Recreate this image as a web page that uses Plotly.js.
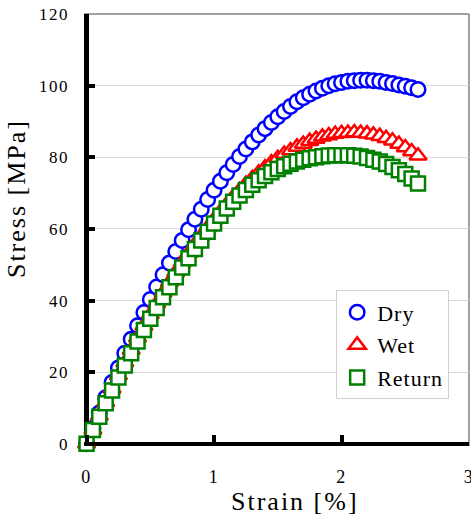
<!DOCTYPE html>
<html><head><meta charset="utf-8">
<script src="https://cdn.plot.ly/plotly-3.0.1.min.js"></script>
<style>
html,body{margin:0;padding:0;background:#fff;}
#chart{width:471px;height:518px;}
.xtick text,.ytick text{letter-spacing:1.5px;}
.legendtext{letter-spacing:1px;}
.annotation-text{letter-spacing:2px;}
</style></head><body><div id="chart"></div>
<script>
const strain = [0,0.05,0.1,0.15,0.2,0.25,0.3,0.35,0.4,0.45,0.5,0.55,0.6,0.65,0.7,0.75,0.8,0.85,0.9,0.95,1.0,1.05,1.1,1.15,1.2,1.25,1.3,1.35,1.4,1.45,1.5,1.55,1.6,1.65,1.7,1.75,1.8,1.85,1.9,1.95,2.0,2.05,2.1,2.15,2.2,2.25,2.3,2.35,2.4,2.45,2.5,2.55,2.6];
const dryStress = [0,4.3,8.6,12.9,17.1,21.2,25.3,29.2,33.0,36.7,40.3,43.8,47.2,50.5,53.7,56.8,59.8,62.7,65.5,68.2,70.8,73.3,75.7,78.0,80.2,82.3,84.3,86.2,88.0,89.7,91.3,92.8,94.2,95.5,96.6,97.6,98.5,99.3,100.0,100.5,100.9,101.2,101.4,101.5,101.5,101.4,101.2,100.9,100.6,100.2,99.8,99.4,98.9];
const wetStress = [0,3.9,7.8,11.6,15.4,19.1,22.7,26.2,29.6,32.9,36.1,39.2,42.2,45.1,47.9,50.6,53.2,55.7,58.1,60.4,62.6,64.8,66.9,68.9,70.7,72.5,74.1,75.7,77.1,78.5,79.7,80.9,81.9,82.9,83.7,84.5,85.1,85.7,86.1,86.5,86.7,86.8,86.9,86.8,86.6,86.3,85.9,85.3,84.6,83.7,82.7,81.6,80.4];
const returnStress = [0,3.9,7.6,11.3,14.9,18.5,21.9,25.3,28.6,31.8,34.9,37.9,40.9,43.7,46.5,49.2,51.8,54.4,56.8,59.2,61.5,63.7,65.7,67.6,69.3,70.9,72.3,73.6,74.8,75.8,76.7,77.5,78.2,78.8,79.3,79.7,80.0,80.3,80.5,80.6,80.6,80.6,80.4,80.2,79.8,79.3,78.8,78.1,77.3,76.4,75.3,74.1,72.7];
const seriesNames = ['Dry','Wet','Return'];
const xTickVals = [0,1,2,3];
const yTickVals = [0,20,40,60,80,100,120];
const xTitle = 'Strain [%]';
const yTitle = 'Stress [MPa]';

const FONT = 'Liberation Serif';
function mk(name, y, symbol, color, size){
  return {type:'scatter', mode:'markers', name:name, legendgroup:name, x:strain, y:y, cliponaxis:false,
    marker:{symbol:symbol, size:size, color:'#ffffff', line:{color:color, width:2.5}}};
}
const data = [
  mk(seriesNames[0], dryStress, 'circle', '#0000ff', 14.5),
  mk(seriesNames[1], wetStress, 'triangle-up', '#ff0000', 15),
  mk(seriesNames[2], returnStress, 'square', '#008000', 14)
];
const layout = {
  width:471, height:518,
  margin:{l:84, r:2, t:14, b:72},
  paper_bgcolor:'#fff', plot_bgcolor:'#fff',
  font:{family:FONT, color:'#000'},
  showlegend:true,
  xaxis:{range:[-0.02,3], tickvals:xTickVals, ticktext:xTickVals.map(String), showgrid:false,
    zeroline:true, zerolinecolor:'#000', zerolinewidth:4.5, showline:false, ticklabeloverflow:'allow',
    ticks:'inside', ticklen:11, tickwidth:4, tickcolor:'#000', ticklabelstandoff:18,
    tickfont:{family:FONT, size:18, color:'#000'}},
  yaxis:{range:[-0.6,120], tickvals:yTickVals, ticktext:yTickVals.map(String), showgrid:true, gridcolor:'#d9d9d9', gridwidth:1,
    zeroline:true, zerolinecolor:'#000', zerolinewidth:4.5, showline:false,
    ticks:'inside', ticklen:11, tickwidth:4, tickcolor:'#000', ticklabelstandoff:14,
    tickfont:{family:FONT, size:17, color:'#000'}},
  legend:{x:0.655, y:0.36, xanchor:'left', yanchor:'top', bgcolor:'#fff', bordercolor:'#d0d0d0', borderwidth:1,
    font:{family:FONT, size:22, color:'#000'}, tracegroupgap:1},
  shapes:[
    {type:'line', xref:'paper', yref:'paper', x0:0, x1:1, y0:1, y1:1, line:{color:'#a0a0a0', width:2}, layer:'below'},
    {type:'line', xref:'paper', yref:'paper', x0:1, x1:1, y0:0, y1:1, line:{color:'#a0a0a0', width:2}, layer:'below'}
  ],
  annotations:[
    {text:yTitle, xref:'paper', yref:'paper', x:-0.1736, y:0.572, textangle:-90, showarrow:false, xanchor:'center', yanchor:'middle', font:{family:FONT, size:26, color:'#000'}},
    {text:xTitle, xref:'paper', yref:'paper', x:0.549, y:-0.128, showarrow:false, xanchor:'center', yanchor:'middle', font:{family:FONT, size:26, color:'#000'}}
  ]
};
Plotly.newPlot('chart', data, layout, {displayModeBar:false, staticPlot:true});
</script></body></html>
